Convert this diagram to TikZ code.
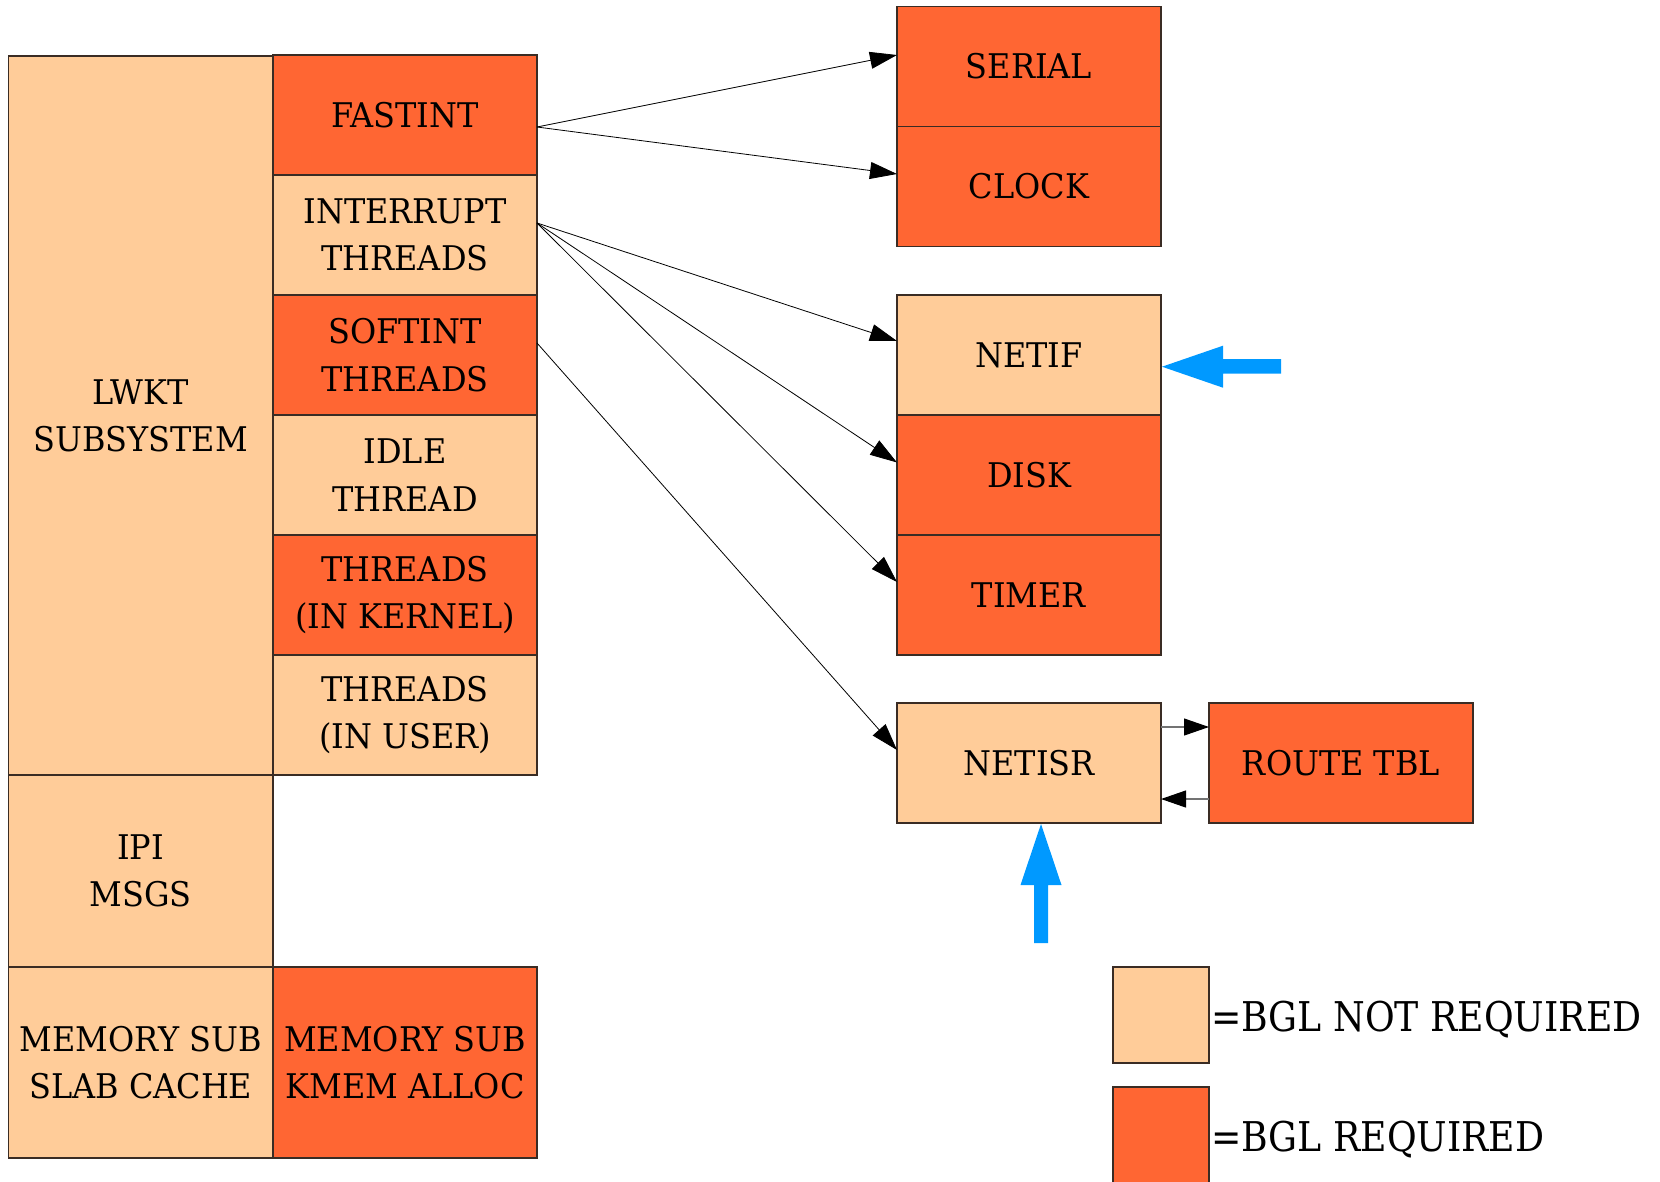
\documentclass[tikz,border=0pt]{standalone}
\usepackage{fontspec}
\usepackage{graphicx}
\setmainfont{DejaVu Serif}[FakeStretch=0.94]
\usetikzlibrary{arrows.meta}
\definecolor{peach}{RGB}{255,204,153}
\definecolor{hot}{RGB}{255,102,51}
\definecolor{edgecol}{RGB}{58,44,36}
\definecolor{skyarrow}{RGB}{0,153,255}
\begin{document}
\begin{tikzpicture}[x=1pt,y=-1pt,
  box/.style={draw=edgecol, line width=1.3pt, inner sep=0pt, outer sep=0pt, align=center,
    font=\fontsize{34}{47.5}\selectfont, minimum width=264pt, minimum height=120pt},
  nb/.style={box, fill=peach},
  rb/.style={box, fill=hot},
  conn/.style={line width=0.8pt, -{Triangle[length=27pt,width=17pt]}},
  conntwo/.style={draw=black!55, line width=1.1pt, -{Triangle[length=25pt,width=17pt,color=black]}},
  legtext/.style={anchor=base west, inner sep=0pt, font=\fontsize{41}{41}\selectfont},
  blue/.style={fill=skyarrow}
]
\useasboundingbox (0,0) rectangle (1660,1181);

% left stack
\node[nb, minimum width=264.5pt, minimum height=720pt] (lwkt) at (140.75,416) {LWKT\\SUBSYSTEM};
\node[rb] (fastint) at (405,115) {FASTINT};
\node[nb] (intr) at (405,235) {INTERRUPT\\THREADS};
\node[rb] (softint) at (405,355) {SOFTINT\\THREADS};
\node[nb] (idle) at (405,475) {IDLE\\THREAD};
\node[rb] (tkern) at (405,595) {THREADS\\(IN KERNEL)};
\node[nb] (tuser) at (405,715) {THREADS\\(IN USER)};
\node[nb, minimum width=264.5pt, minimum height=192pt] (ipi) at (140.75,871) {IPI\\MSGS};
\node[nb, minimum width=264.5pt, minimum height=191pt] (slab) at (140.75,1062.5) {MEMORY SUB\\SLAB CACHE};
\node[rb, minimum height=191pt] (kmem) at (405,1062.5) {MEMORY SUB\\KMEM ALLOC};

% right boxes
\node[rb] (serial) at (1029,66.5) {SERIAL};
\node[rb] (clock) at (1029,186.5) {CLOCK};
\node[nb] (netif) at (1029,355) {NETIF};
\node[rb] (disk) at (1029,475) {DISK};
\node[rb] (timer) at (1029,595) {TIMER};
\node[nb] (netisr) at (1029,763) {NETISR};
\node[rb] (route) at (1341,763) {ROUTE TBL};

% legend
\node[nb, minimum width=96pt, minimum height=96pt] (leg1) at (1161,1015) {};
\node[rb, minimum width=96pt, minimum height=96pt] (leg2) at (1161,1135) {};
\node[legtext] (leg1t) at (1211,1031) {\scalebox{0.94}[1]{=BGL NOT REQUIRED}};
\node[legtext] (leg2t) at (1211,1151) {\scalebox{0.94}[1]{=BGL REQUIRED}};

% connectors
\draw[conn] ([shift={(0,12)}]fastint.east) -- ([shift={(0,-11.5)}]serial.west);
\draw[conn] ([shift={(0,12)}]fastint.east) -- ([shift={(0,-12.5)}]clock.west);
\draw[conn] ([shift={(0,-12)}]intr.east) -- ([shift={(0,-14)}]netif.west);
\draw[conn] ([shift={(0,-12)}]intr.east) -- ([shift={(0,-12.5)}]disk.west);
\draw[conn] ([shift={(0,-12)}]intr.east) -- ([shift={(0,-13)}]timer.west);
\draw[conn] ([shift={(0,-12)}]softint.east) -- ([shift={(0,-13)}]netisr.west);
\draw[conntwo] ([shift={(0,-36)}]netisr.east) -- ([shift={(0,-36)}]route.west);
\draw[conntwo] ([shift={(0,36)}]route.west) -- ([shift={(0,36)}]netisr.east);

% blue arrows
\fill[blue] ([shift={(1,11.7)}]netif.east) -- ++(61,-21) -- ++(0,13.5) -- ++(58,0)
  -- ++(0,14.5) -- ++(-58,0) -- ++(0,14) -- cycle;
\fill[blue] ([shift={(12,1)}]netisr.south) -- ++(20.5,61) -- ++(-13.5,0) -- ++(0,58)
  -- ++(-14,0) -- ++(0,-58) -- ++(-13.5,0) -- cycle;
\end{tikzpicture}
\end{document}
